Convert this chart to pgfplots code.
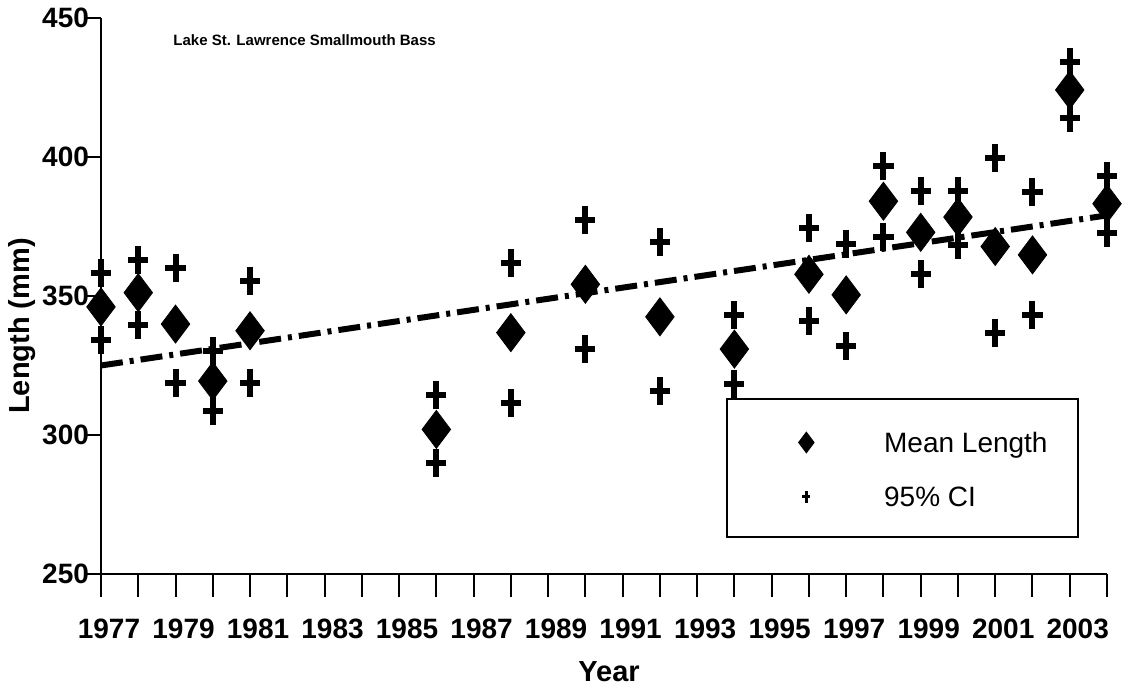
\documentclass[border=0pt]{standalone}
\usepackage{fontspec}
\setmainfont{Liberation Sans}
\usepackage{pgfplots}
\pgfplotsset{compat=1.18}

% mean length and 95% CI bounds
\pgfplotstableread{
year  mean   lo     hi
1977  346.1  334.1  358.4
1978  351.2  339.5  363.0
1979  339.9  318.8  360.0
1980  319.4  308.6  330.3
1981  337.5  318.8  355.5
1986  302.0  289.8  314.5
1988  336.8  311.5  362.0
1990  354.2  330.9  377.4
1992  342.5  315.8  369.4
1994  330.9  318.5  343.1
1996  357.8  341.1  374.4
1997  350.4  332.0  368.8
1998  384.1  371.4  396.7
1999  372.9  357.8  387.9
2000  378.4  368.2  387.9
2001  367.8  336.8  399.5
2002  364.8  343.1  387.3
2003  424.1  414.1  434.0
2004  383.2  372.6  393.1
}\bass

\begin{document}
\begin{tikzpicture}
\path[use as bounding box] (-50.5pt,-58pt) rectangle (514.5pt,287pt);
\begin{axis}[
    scale only axis,
    width=503pt, height=278pt,
    xmin=1977, xmax=2004,
    ymin=250, ymax=450,
    clip=false,
    axis lines=left,
    axis line style={-, line width=1pt},
    ytick={250,300,...,450},
    xtick={1977,1979,...,2003},
    minor xtick={1977,1978,...,2004},
    major tick length=7pt,
    minor tick length=11.5pt,
    tick align=outside,
    tick style={line width=1pt, black},
    /pgf/number format/assume math mode=true,
    x tick label style={/pgf/number format/1000 sep={}},
    tick label style={font=\fontsize{14}{16}\selectfont\bfseries},
    xticklabel style={yshift=-12pt, xshift=4pt},
    yticklabel style={xshift=4.5pt},
    xlabel={Year},
    ylabel={Length (mm)},
    label style={font=\fontsize{14.5}{16}\selectfont\bfseries},
    xlabel style={at={([yshift=-49pt]rel axis cs:0.505,0)}, anchor=center},
    ylabel style={at={([xshift=-39.5pt]rel axis cs:0,0.446)}, anchor=center},
    legend cell align=left,
    legend style={
        draw=none, fill=none,
        at={(rel axis cs:0.693,0.188)}, anchor=west,
        inner sep=0pt, row sep=17pt, column sep=35pt,
        nodes={inner sep=0pt, font=\fontsize{14}{16}\selectfont,
               text height=10pt, text depth=0pt}
    }
]
    \addplot[forget plot, line width=3pt,
             dash pattern=on 11pt off 3.5pt on 2pt off 3.5pt]
        coordinates {(1977,325) (2004,379)};

    \addplot[only marks, mark=diamond*, mark size=9.5pt,
             mark options={fill=black, draw=black},
             legend image code/.code={
               \draw plot[mark=diamond*, mark size=5.2pt,
                 mark options={fill=black}] coordinates {(0cm,0cm)};}]
        table[x=year, y=mean] {\bass};
    \addlegendentry{Mean Length}

    \addplot[only marks, mark=+, mark size=7pt,
             mark options={xscale=0.72, line width=3pt},
             legend image code/.code={
               \draw plot[mark=+, mark size=3pt,
                 mark options={xscale=0.67, line width=1.5pt}] coordinates {(0cm,0cm)};}]
        table[x=year, y=lo] {\bass};
    \addlegendentry{95\% CI}

    \addplot[only marks, mark=+, mark size=7pt, forget plot,
             mark options={xscale=0.72, line width=3pt}]
        table[x=year, y=hi] {\bass};

    \draw[line width=1pt] (rel axis cs:0.6223,0.3147) rectangle (rel axis cs:0.9712,0.0665);

    \node[anchor=west, inner sep=0pt, font=\fontsize{7.5}{9}\selectfont\bfseries]
        at (rel axis cs:0.0716,0.960) {Lake St. Lawrence Smallmouth Bass};
\end{axis}
\end{tikzpicture}
\end{document}
